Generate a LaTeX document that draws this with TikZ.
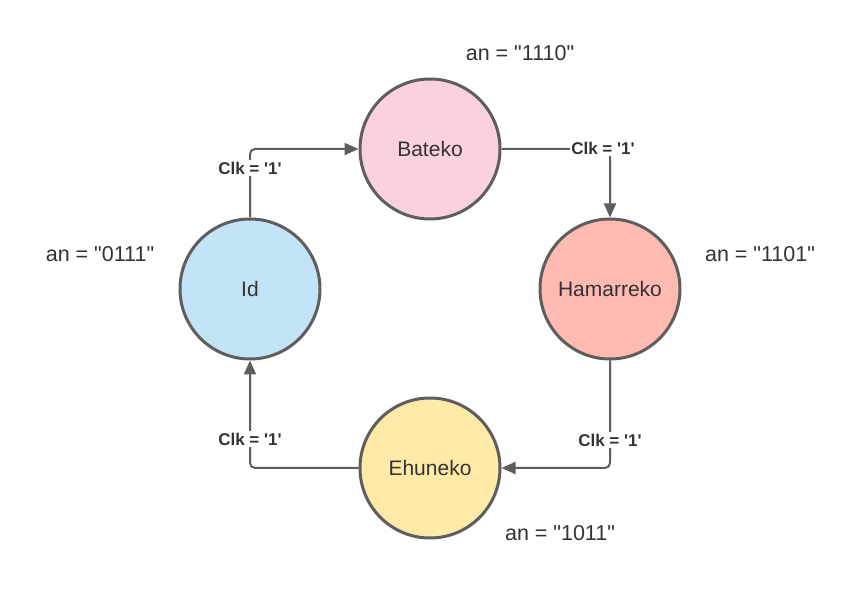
\documentclass[tikz,border=0pt]{standalone}
\usepackage{fontspec}
\setmainfont{Liberation Sans}[Ligatures=TeXOff]
\usetikzlibrary{arrows.meta}
\definecolor{strokegray}{HTML}{5E5E5E}
\definecolor{txt}{HTML}{333333}
\definecolor{cpink}{HTML}{F9D2DE}
\definecolor{cblue}{HTML}{C3E4F6}
\definecolor{csalmon}{HTML}{FFBBB1}
\definecolor{cyellow}{HTML}{FFEBA7}
\begin{document}
\begin{tikzpicture}[x=1pt,y=-1pt,
  state/.style={circle,draw=strokegray,line width=3pt,minimum size=140pt,inner sep=0pt,text=txt,font=\fontsize{21}{24}\selectfont},
  conn/.style={draw=strokegray,line width=2pt,rounded corners=5pt,-{Triangle[length=14pt,width=12pt]}},
  clk/.style={fill=white,inner sep=1.5pt,text=txt,font=\fontsize{17}{20}\selectfont\bfseries},
  outlbl/.style={text=txt,font=\fontsize{21.5}{24}\selectfont,inner sep=0pt}]
\useasboundingbox (0,0) rectangle (860,593);
\fill[white] (0,0) rectangle (860,593);
\node[state,fill=cpink] (bat) at (430,149) {Bateko};
\node[state,fill=cblue] (id) at (250,289) {Id};
\node[state,fill=csalmon] (ham) at (610,289) {Hamarreko};
\node[state,fill=cyellow] (ehu) at (430,468) {Ehuneko};
\coordinate (c1) at (250,149);
\coordinate (c2) at (610,149);
\coordinate (c3) at (610,468);
\coordinate (c4) at (250,468);
\draw[conn] (id.north) -- (c1) -- (bat.west);
\draw[conn] (bat.east) -- (c2) -- (ham.north);
\draw[conn] (ham.south) -- (c3) -- (ehu.east);
\draw[conn] (ehu.west) -- (c4) -- (id.south);
\node[clk] (l1) at (250,168) {Clk = '1'};
\node[clk] (l2) at (603,148) {Clk = '1'};
\node[clk] (l3) at (610,440) {Clk = '1'};
\node[clk] (l4) at (250,439) {Clk = '1'};
\node[outlbl] (a1) at (520,53) {an = "1110"};
\node[outlbl] (a2) at (100,254) {an = "0111"};
\node[outlbl] (a3) at (760,254) {an = "1101"};
\node[outlbl] (a4) at (560,533) {an = "1011"};
\end{tikzpicture}
\end{document}
